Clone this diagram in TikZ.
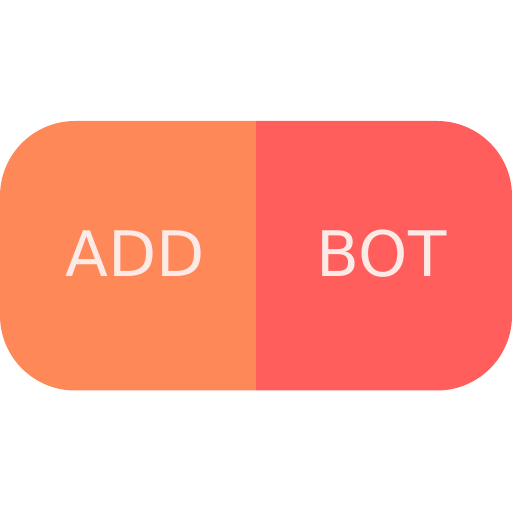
\documentclass[tikz,border=0pt]{standalone}
\usepackage{fontspec}
\setmainfont{DejaVu Sans}
\usepackage{tikz}
\usetikzlibrary{positioning}
\definecolor{add-orange}{HTML}{FF8859}
\definecolor{bot-red}{HTML}{FF5E5C}
\definecolor{label-pale}{HTML}{FCEAE6}

\begin{document}
\begin{tikzpicture}[x=0.025cm, y=0.025cm,
    label/.style={anchor=base, text=label-pale, inner sep=0pt,
                  font=\fontsize{44.6pt}{52pt}\selectfont}]

    % canvas
    \useasboundingbox (0,0) rectangle (512,512);

    % left half
    \fill[add-orange] (256,121.5) -- (75,121.5)
        arc[start angle=270, end angle=180, radius=75] -- (0,316)
        arc[start angle=180, end angle=90, radius=75] -- (256,391) -- cycle;

    % right half
    \fill[bot-red] (256,121.5) -- (437,121.5)
        arc[start angle=-90, end angle=0, radius=75] -- (512,316)
        arc[start angle=0, end angle=90, radius=75] -- (256,391) -- cycle;

    % labels
    \node[label] (add) at (135,235) {ADD};
    \node[label] (bot) at (381.5,235) {BOT};

\end{tikzpicture}
\end{document}
